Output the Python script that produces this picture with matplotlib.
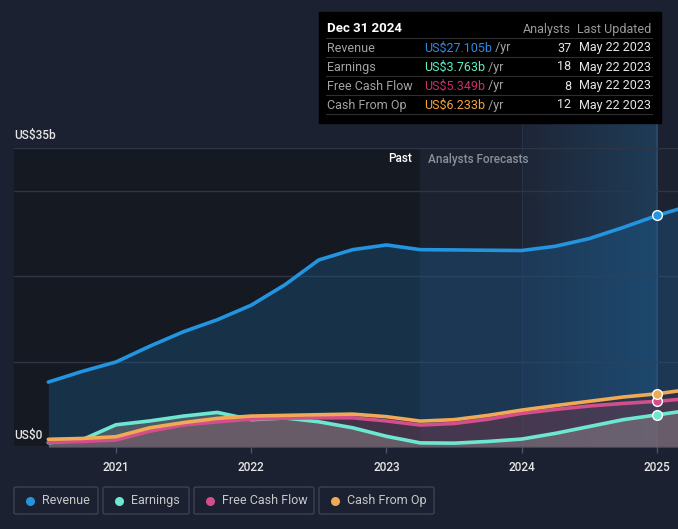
import numpy as np
import matplotlib.pyplot as plt
from matplotlib.patches import Rectangle, FancyBboxPatch
from matplotlib.colors import LinearSegmentedColormap

plt.rcParams['font.family'] = ['Roboto', 'DejaVu Sans']

# data (US$ billions), quarterly positions as decimal years
years = [2020.5, 2020.75, 2021.0, 2021.25, 2021.5, 2021.75, 2022.0, 2022.25, 2022.5, 2022.75,
         2023.0, 2023.25, 2023.5, 2023.75, 2024.0, 2024.25, 2024.5, 2024.75, 2025.0, 2025.16]
revenue = [7.6, 8.85, 9.95, 11.8, 13.5, 14.9, 16.6, 19.0, 21.9, 23.1,
           23.65, 23.1, 23.07, 23.03, 23.0, 23.5, 24.4, 25.7, 27.1, 27.85]
earnings = [0.5, 0.85, 2.6, 3.05, 3.62, 4.05, 3.2, 3.4, 2.95, 2.25,
            1.25, 0.48, 0.45, 0.65, 0.93, 1.6, 2.4, 3.2, 3.76, 4.12]
free_cash_flow = [0.55, 0.65, 0.82, 1.85, 2.58, 2.95, 3.27, 3.38, 3.42, 3.42,
                  3.05, 2.57, 2.75, 3.25, 3.93, 4.4, 4.8, 5.1, 5.35, 5.57]
cash_from_op = [0.9, 1.0, 1.2, 2.25, 2.86, 3.35, 3.62, 3.7, 3.78, 3.85,
                3.55, 3.03, 3.2, 3.7, 4.32, 4.85, 5.35, 5.85, 6.23, 6.57]

year_ticks = [2021, 2022, 2023, 2024, 2025]
past_end = 2023.25
hover_year = 2025.0

series_names = ['Revenue', 'Earnings', 'Free Cash Flow', 'Cash From Op']
series_colors = ['#2394df', '#6ee7d1', '#d44d8c', '#f0aa55']
tip_colors = ['#2f88e6', '#5cf2c6', '#c8306e', '#f5a33c']
tip_values = ['US$27.105b', 'US$3.763b', 'US$5.349b', 'US$6.233b']
tip_analysts = ['37', '18', '8', '12']
tip_updated = ['May 22 2023'] * 4

W, H = 678, 529
bg = '#1b2130'
fig = plt.figure(figsize=(W / 100, H / 100), dpi=100, facecolor=bg)

def fx(px):
    return px / W

def fy(py):
    return 1 - py / H

ax = fig.add_axes([fx(14), fy(447), 1 - fx(14), fy(148) - fy(447)])
ax.set_facecolor(bg)
x0 = 2021 - (116 - 14) / 135.3
x1 = 2025 + (678 - 657) / 135.3
ax.set_xlim(x0, x1)
ax.set_ylim(0, 35)

# background regions
ax.axvspan(x0, past_end, color='#151921', zorder=0)
ax.axvspan(past_end, x1, color='#1c2230', zorder=0)
grad = np.linspace(0, 1, 256).reshape(1, -1)
cmap = LinearSegmentedColormap.from_list('g', ['#1e2636', '#1f3c58'])
ax.imshow(grad, extent=[2024.0, hover_year, 0, 38], aspect='auto', cmap=cmap,
          zorder=0.5, clip_on=False)
ax.plot([2024.0, 2024.0], [0, 38], color='#253247', lw=0.8, zorder=0.6, clip_on=False)
ax.plot([hover_year, hover_year], [0, 37.9], color='#2b4b6b', lw=1.2, zorder=0.6, clip_on=False)

for v in [10, 20, 30, 35]:
    ax.axhline(v, color='#2e3544', lw=1, zorder=1)
ax.axhline(0, color='#4a5262', lw=1, zorder=8)

# revenue area and line
ax.fill_between(years, revenue, 0, color='#1d5f96', alpha=0.35, lw=0, zorder=2)
ax.plot(years, revenue, color=series_colors[0], lw=2.6, zorder=3, solid_capstyle='round')

# lower fills
ax.fill_between(years, cash_from_op, 0, color='#3a2e36', alpha=0.5, lw=0, zorder=4)
ax.fill_between(years, free_cash_flow, 0, color='#c0507e', alpha=0.18, lw=0, zorder=4)
ax.fill_between(years, earnings, 0, color='#a49b98', alpha=0.38, lw=0, zorder=4)

ax.plot(years, earnings, color=series_colors[1], lw=2.6, zorder=4.5, solid_capstyle='round')
ax.plot(years, free_cash_flow, color=series_colors[2], lw=2.6, zorder=5, solid_capstyle='round')
ax.plot(years, cash_from_op, color=series_colors[3], lw=2.6, zorder=5.1, solid_capstyle='round')

data = [revenue, earnings, free_cash_flow, cash_from_op]
for i in range(4):
    ax.plot([hover_year], [data[i][years.index(hover_year)]], 'o', ms=7, mfc=series_colors[i],
            mec='white', mew=1, zorder=7)

ax.set_xticks(year_ticks)
ax.set_xticklabels([str(y) for y in year_ticks])
ax.tick_params(axis='x', colors='#4a5262', length=4, width=1, labelcolor='#e6e6e6',
               labelsize=8.5, pad=6)
for lab in ax.get_xticklabels():
    lab.set_fontweight('medium')
ax.set_yticks([])
for s in ax.spines.values():
    s.set_visible(False)

fig.text(fx(14), fy(135), 'US$35b', color='#e6e6e6', fontsize=8.5, va='center', fontweight='medium')
fig.text(fx(14), fy(435), 'US$0', color='#e6e6e6', fontsize=8.5, va='center', fontweight='medium')
fig.text(fx(412), fy(159), 'Past', color='#ffffff', fontsize=8.5, va='center', ha='right', fontweight='medium')
fig.text(fx(428), fy(159), 'Analysts Forecasts', color='#8b909a', fontsize=8.5, va='center', fontweight='medium')

# tooltip
fig.patches.append(Rectangle((fx(319), fy(123)), fx(661 - 319), fy(12) - fy(123),
                             transform=fig.transFigure, color='#000000', zorder=10))
for py in [38, 57, 76, 95, 114]:
    fig.lines.append(plt.Line2D([fx(326), fx(652)], [fy(py), fy(py)], transform=fig.transFigure,
                                color='#2f2f2f', lw=0.8, zorder=11))
fig.text(fx(327), fy(29), 'Dec 31 2024', color='#ffffff', fontsize=9.5, va='center', zorder=12,
         fontweight='bold')
fig.text(fx(571), fy(29), 'Analysts', color='#9a9a9a', fontsize=9, va='center', ha='right', zorder=12)
fig.text(fx(651), fy(29), 'Last Updated', color='#9a9a9a', fontsize=9, va='center', ha='right', zorder=12)
fig.canvas.draw()
renderer = fig.canvas.get_renderer()
for k, name in enumerate(series_names):
    py = 48 + k * 19
    fig.text(fx(327), fy(py), name, color='#a3a3a3', fontsize=9, va='center', zorder=12)
    t = fig.text(fx(424), fy(py), tip_values[k], color=tip_colors[k], fontsize=9, va='center', zorder=12)
    bb = t.get_window_extent(renderer)
    fig.text(bb.x1 / W, fy(py), ' /yr', color='#a3a3a3', fontsize=9, va='center', zorder=12)
    fig.text(fx(571), fy(py), tip_analysts[k], color='#e6e6e6', fontsize=9, va='center', ha='right', zorder=12)
    fig.text(fx(651), fy(py), tip_updated[k], color='#e6e6e6', fontsize=9, va='center', ha='right', zorder=12)

# legend
boxes = [(14, 98), (103, 189), (194, 314), (319, 434)]
for k, (bx0, bx1) in enumerate(boxes):
    fig.patches.append(FancyBboxPatch((fx(bx0), fy(514)), fx(bx1 - bx0), fy(487) - fy(514),
                                      boxstyle='round,pad=0,rounding_size=0.003', transform=fig.transFigure,
                                      fc='none', ec='#3b4252', lw=1))
    fig.lines.append(plt.Line2D([fx(bx0 + 16)], [fy(500.5)], transform=fig.transFigure, marker='o',
                                ms=6.5, mfc=series_colors[k], mec='none'))
    fig.text(fx(bx0 + 28), fy(500.5), series_names[k], color='#c8c8c8', fontsize=9, va='center')

fig.savefig('out.png', dpi=100, facecolor=bg)
